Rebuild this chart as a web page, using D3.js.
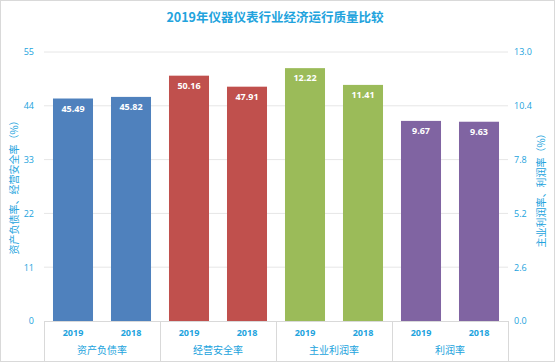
<!DOCTYPE html>
<html>
<head>
<meta charset="utf-8">
<script src="https://cdn.jsdelivr.net/npm/d3@7"></script>
<style>
body { margin: 0; background: #fff; }
text { font-family: "Open Sans", "Noto Sans CJK SC", sans-serif; }
</style>
</head>
<body>
<svg id="chart" width="555" height="362"></svg>
<script>
// categories and values
var categories = ["资产负债率", "经营安全率", "主业利润率", "利润率"];
var years = ["2019", "2018"];
var values2019 = [45.49, 50.16, 12.22, 9.67];
var values2018 = [45.82, 47.91, 11.41, 9.63];
var axisSide = ["left", "left", "right", "right"]; // which y axis each category uses
var colors = ["#4f81bd", "#c0504d", "#9bbb59", "#8064a2"];
var leftTicks = [0, 11, 22, 33, 44, 55];
var rightTicks = [0, 2.6, 5.2, 7.8, 10.4, 13.0];

var title = "2019年仪器仪表行业经济运行质量比较";
var leftLabel = "资产负债率、经营安全率（%）";
var rightLabel = "主业利润率、利润率（%）";
var blue = "#22a3dd";

var svg = d3.select("#chart");
var x0 = 44, x1 = 508, yTop = 52, yBot = 321;

svg.append("rect").attr("x", 0.5).attr("y", 0.5).attr("width", 554).attr("height", 361)
	.attr("fill", "none").attr("stroke", "#d9d9d9");

var xCat = d3.scaleBand().domain(categories).range([x0, x1]);
var xYear = d3.scaleBand().domain(years).range([0, xCat.bandwidth()]).paddingInner(0.31).paddingOuter(0.155);
var yL = d3.scaleLinear().domain([0, 55]).range([yBot, yTop]);
var yR = d3.scaleLinear().domain([0, 13]).range([yBot, yTop]);

// gridlines
svg.append("g").selectAll("line").data(leftTicks.slice(1)).enter().append("line")
	.attr("x1", x0).attr("x2", x1)
	.attr("y1", function(d){ return yL(d); }).attr("y2", function(d){ return yL(d); })
	.attr("stroke", "#e6e6e6").attr("stroke-width", 1);

// left axis
var gL = svg.append("g").attr("transform", "translate(" + x0 + ",0)")
	.call(d3.axisLeft(yL).tickValues(leftTicks).tickSize(0).tickPadding(10));
gL.select(".domain").remove();
gL.selectAll("text").attr("fill", blue).style("font-size", "9px");

// right axis
var gR = svg.append("g").attr("transform", "translate(" + x1 + ",0)")
	.call(d3.axisRight(yR).tickValues(rightTicks).tickSize(0).tickPadding(6).tickFormat(d3.format(".1f")));
gR.select(".domain").remove();
gR.selectAll("text").attr("fill", blue).style("font-size", "9px");

// bars
var rows = [];
categories.forEach(function(c, i) {
	rows.push({cat: c, year: "2019", v: values2019[i], idx: i});
	rows.push({cat: c, year: "2018", v: values2018[i], idx: i});
});
function yOf(d) { return axisSide[d.idx] == "left" ? yL(d.v) : yR(d.v); }

svg.append("g").selectAll("rect").data(rows).enter().append("rect")
	.attr("x", function(d){ return xCat(d.cat) + xYear(d.year); })
	.attr("y", yOf)
	.attr("width", xYear.bandwidth())
	.attr("height", function(d){ return yBot - yOf(d); })
	.attr("fill", function(d){ return colors[d.idx]; });

svg.append("g").selectAll("text").data(rows).enter().append("text")
	.attr("x", function(d){ return xCat(d.cat) + xYear(d.year) + xYear.bandwidth() / 2; })
	.attr("y", function(d){ return yOf(d) + 13; })
	.attr("text-anchor", "middle")
	.attr("fill", "#fff")
	.style("font-size", "9px").style("font-weight", "bold")
	.text(function(d){ return d.v.toFixed(2); });

// bottom axis
svg.append("line").attr("x1", x0).attr("x2", x1).attr("y1", yBot + 0.5).attr("y2", yBot + 0.5)
	.attr("stroke", "#d9d9d9");
var seps = [x0].concat(categories.map(function(c){ return xCat(c) + xCat.bandwidth(); }));
svg.append("g").selectAll("line").data(seps).enter().append("line")
	.attr("x1", function(d){ return d + 0.5; }).attr("x2", function(d){ return d + 0.5; })
	.attr("y1", yBot).attr("y2", 362)
	.attr("stroke", "#d9d9d9");

svg.append("g").selectAll("text").data(rows).enter().append("text")
	.attr("x", function(d){ return xCat(d.cat) + xYear(d.year) + xYear.bandwidth() / 2; })
	.attr("y", 336)
	.attr("text-anchor", "middle")
	.attr("fill", blue)
	.style("font-size", "9px").style("font-weight", "bold")
	.text(function(d){ return d.year; });

svg.append("g").selectAll("text").data(categories).enter().append("text")
	.attr("x", function(d){ return xCat(d) + xCat.bandwidth() / 2; })
	.attr("y", 354)
	.attr("text-anchor", "middle")
	.attr("fill", blue)
	.style("font-size", "10px")
	.style("font-family", "Noto Sans CJK SC")
	.text(function(d){ return d; });

// title
svg.append("text").attr("x", 275).attr("y", 22).attr("text-anchor", "middle")
	.attr("fill", blue).style("font-size", "12.5px").style("font-weight", "bold")
	.style("font-family", "Noto Sans CJK SC")
	.text(title);

// axis titles
svg.append("text").attr("transform", "translate(18,185) rotate(-90)")
	.attr("text-anchor", "middle").attr("fill", blue)
	.style("font-size", "10px").style("font-family", "Noto Sans CJK SC")
	.text(leftLabel);
svg.append("text").attr("transform", "translate(545,188) rotate(-90)")
	.attr("text-anchor", "middle").attr("fill", blue)
	.style("font-size", "10px").style("font-family", "Noto Sans CJK SC")
	.text(rightLabel);
</script>
</body>
</html>
